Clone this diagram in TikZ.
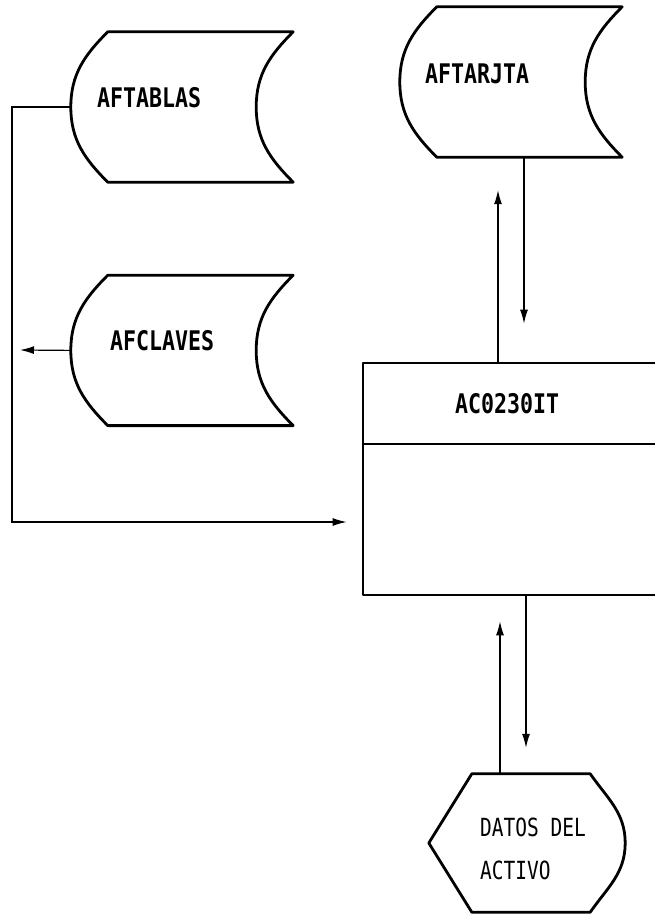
\documentclass[tikz,border=0pt]{standalone}
\usepackage{fontspec}
\usepackage{tikz}
\usetikzlibrary{positioning,arrows.meta}
\newfontfamily\dotfont[FakeStretch=0.8]{DejaVu Sans Mono}
\newfontfamily\dotthin[FakeStretch=0.78]{DejaVu Sans Mono}
% stored data outline round node #1
\newcommand{\storedata}[1]{%
  \draw[border] ([xshift=37pt]#1.north west) -- (#1.north east)
    to[out=225,in=90] ([xshift=-37pt]#1.east)
    to[out=-90,in=135] (#1.south east)
    -- ([xshift=37pt]#1.south west)
    to[out=135,in=-90] (#1.west)
    to[out=90,in=225] cycle;}
% display outline round node #1
\newcommand{\display}[1]{%
  \draw[border] ([xshift=43pt]#1.north west) -- ([xshift=-35pt]#1.north east)
    to[out=-55,in=90] (#1.east)
    to[out=-90,in=55] ([xshift=-35pt]#1.south east)
    -- ([xshift=43pt]#1.south west) -- (#1.west) -- cycle;}

\begin{document}
\begin{tikzpicture}[x=1pt,y=1pt]
\tikzstyle{store}=[minimum width=222pt, minimum height=150pt, inner sep=0pt]
\tikzstyle{border}=[line width=2.8pt, line join=round]
\tikzstyle{connect}=[-{Latex[length=14pt,width=8pt]}, line width=1.2pt]
\tikzstyle{lbl}=[font=\dotfont\bfseries\fontsize{27}{30}\selectfont, inner sep=0pt, anchor=base west]
\useasboundingbox (0,0) rectangle (655,-921);
\node[store] (Tablas) at (182,-107) {};
\node[store] (Claves) [below=93pt of Tablas] {};
\node[store] (Tarjta) at (511,-82) {};
\node[draw, border, minimum width=302pt, minimum height=232pt, inner sep=0pt] (Proc) at (514,-479) {};
\node[minimum width=196pt, minimum height=138pt, inner sep=0pt] (Datos) at (527,-843) {};
\storedata{Tablas}
\storedata{Claves}
\storedata{Tarjta}
\display{Datos}
\draw[border] (Proc.west |- 0,-444) -- (Proc.east |- 0,-444);
\node[lbl] (TablasText) at (97,-107) {AFTABLAS};
\node[lbl] (ClavesText) at (110,-350) {AFCLAVES};
\node[lbl] (TarjtaText) at (425,-83) {AFTARJTA};
\node[lbl] (ProcText) at (455,-413) {AC0230IT};
\node[font=\dotthin\fontsize{25}{43}\selectfont, inner sep=0pt, align=left, anchor=north west] (DatosText) at (480,-818) {DATOS DEL\\ACTIVO};
\coordinate (Left) at (12,-522);
\coordinate (ClavesOut) at (20,-350);
\draw[connect] (Tablas.west) -| (Left) -- ([xshift=-15pt]Proc.west |- Left);
\draw[connect] (Claves.west) -- (ClavesOut);
\draw[connect, shorten >=38pt] ([xshift=13pt]Tarjta.south) -- ([xshift=13pt]Tarjta.south |- Proc.north);
\draw[connect, shorten >=33pt] ([xshift=-13pt]Tarjta.south |- Proc.north) -- ([xshift=-13pt]Tarjta.south);
\draw[connect, shorten >=25pt] ([xshift=-14pt]Proc.south |- Datos.north) -- ([xshift=-14pt]Proc.south);
\draw[connect, shorten >=26pt] ([xshift=12pt]Proc.south) -- ([xshift=12pt]Proc.south |- Datos.north);
\end{tikzpicture}
\end{document}
